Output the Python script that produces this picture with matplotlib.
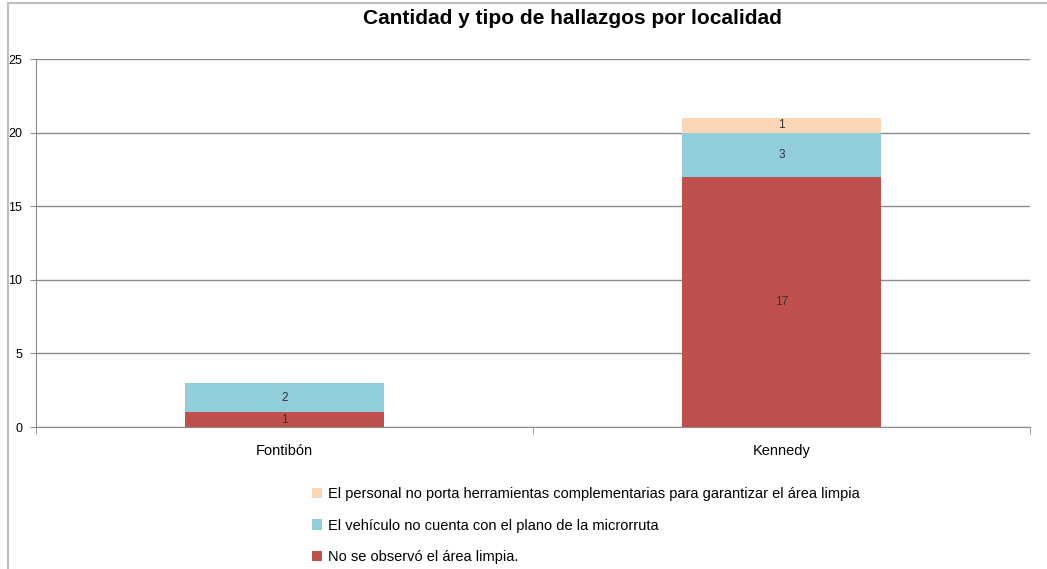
import matplotlib
matplotlib.use("Agg")
import matplotlib.pyplot as plt
from matplotlib.patches import Rectangle
import numpy as np

localidades = ["Fontibón", "Kennedy"]
no_area_limpia = [1, 17]
sin_plano = [2, 3]
sin_herramientas = [0, 1]

series = [
    ("No se observó el área limpia.", no_area_limpia, "#C0504D"),
    ("El vehículo no cuenta con el plano de la microrruta", sin_plano, "#92CDDC"),
    ("El personal no porta herramientas complementarias para garantizar el área limpia", sin_herramientas, "#FCD5B5"),
]

plt.rcParams["font.family"] = ["Liberation Sans", "DejaVu Sans"]

fig = plt.figure(figsize=(10.47, 5.69), dpi=100)
fig.patches.append(Rectangle((8 / 1047, -0.1), 1.2, 1.1 - 3 / 569, transform=fig.transFigure,
                             fill=False, edgecolor="#BFBFBF", linewidth=1.5))

ax = fig.add_axes([36 / 1047, 1 - 427 / 569, 994 / 1047, 368 / 569])
x = np.arange(len(localidades))
bottom = np.zeros(len(localidades))
handles = []
for label, vals, color in series:
    vals = np.array(vals, dtype=float)
    bars = ax.bar(x, vals, 0.4, bottom=bottom, color=color, label=label, zorder=3)
    handles.append(bars)
    for xi, v, b in zip(x, vals, bottom):
        if v > 0:
            ax.text(xi, b + v / 2, f"{int(v)}", ha="center", va="center", fontsize=8.5, color="#333333", zorder=4)
    bottom += vals

ax.set_xlim(-0.5, 1.5)
ax.set_ylim(0, 25)
ax.set_yticks(range(0, 26, 5))
ax.yaxis.grid(True, color="#8C8C8C", linewidth=1, zorder=0)
ax.set_xticks(x)
ax.set_xticklabels(localidades, fontsize=10.5)
ax.set_xticks([-0.5, 0.5, 1.5], minor=True)
ax.tick_params(axis="x", which="major", length=0, pad=12)
ax.tick_params(axis="x", which="minor", length=5, color="#8C8C8C")
ax.tick_params(axis="y", length=4, color="#8C8C8C", labelsize=9, pad=6)
for s in ["top", "right"]:
    ax.spines[s].set_visible(False)
for s in ["left", "bottom"]:
    ax.spines[s].set_color("#8C8C8C")

fig.text(572 / 1047, 1 - 18 / 569, "Cantidad y tipo de hallazgos por localidad",
         ha="center", va="center", fontsize=15, fontweight="bold")

leg = fig.legend(handles[::-1], [s[0] for s in series][::-1], loc="upper left",
                 bbox_to_anchor=(302 / 1047, 1 - 477 / 569), frameon=False, fontsize=10.5,
                 handlelength=0.7, handleheight=0.7, handletextpad=0.4, labelspacing=1.2,
                 borderpad=0.2)

fig.savefig("out.png", dpi=100)
